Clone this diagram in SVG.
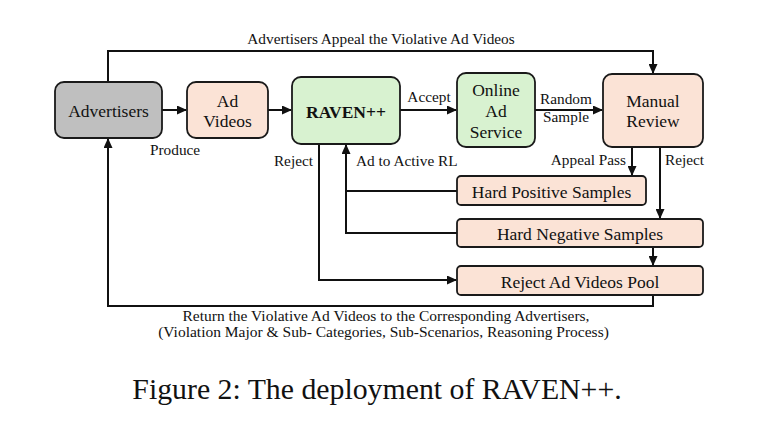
<svg xmlns="http://www.w3.org/2000/svg" width="758" height="436" viewBox="0 0 758 436">
<style>
.box{stroke:#1a1a1a;stroke-width:1.8}
.gray{fill:#bfbfbf}
.peach{fill:#fbe3d6}
.green{fill:#d8f2d0}
.bt{font-family:"Liberation Serif","Times New Roman",serif;font-size:17.5px;fill:#111;text-anchor:middle}
.lb{font-family:"Liberation Serif","Times New Roman",serif;font-size:15.3px;fill:#111}
.lb2{font-family:"Liberation Serif","Times New Roman",serif;font-size:15.5px;fill:#111;text-anchor:middle}
.cn{fill:none;stroke:#111;stroke-width:2}
</style>
<defs>
<marker id="ah" markerUnits="userSpaceOnUse" markerWidth="10" markerHeight="9" refX="9" refY="4.5" orient="auto">
<path d="M0,0 L10,4.5 L0,9 z" fill="#111"/>
</marker>
</defs>
<rect width="758" height="436" fill="#fff"/>
<g id="connectors">
<path class="cn" d="M162,110 H186" marker-end="url(#ah)"/>
<path class="cn" d="M268,110 H291" marker-end="url(#ah)"/>
<path class="cn" d="M400,110 H456" marker-end="url(#ah)"/>
<path class="cn" d="M535,110 H602" marker-end="url(#ah)"/>
<path class="cn" d="M108,82 V51 H653 V73" marker-end="url(#ah)"/>
<path class="cn" d="M632,147 V175" marker-end="url(#ah)"/>
<path class="cn" d="M660,147 V218" marker-end="url(#ah)"/>
<path class="cn" d="M653,247 V265" marker-end="url(#ah)"/>
<path class="cn" d="M653,295 V306 H108 V139" marker-end="url(#ah)"/>
<path class="cn" d="M319,144 V280 H456" marker-end="url(#ah)"/>
<path class="cn" d="M457,191 H346"/>
<path class="cn" d="M457,233 H346 V145" marker-end="url(#ah)"/>
<text class="lb" x="381" y="44" text-anchor="middle">Advertisers Appeal the Violative Ad Videos</text>
<text class="lb" x="150" y="155">Produce</text>
<text class="lb" x="313" y="166" text-anchor="end">Reject</text>
<text class="lb" x="356" y="166">Ad to Active RL</text>
<text class="lb" x="429" y="102" text-anchor="middle">Accept</text>
<text class="lb" x="566" y="104" text-anchor="middle">Random</text>
<text class="lb" x="566" y="122" text-anchor="middle">Sample</text>
<text class="lb" x="626" y="165" text-anchor="end">Appeal Pass</text>
<text class="lb" x="665" y="165">Reject</text>
<text class="lb2" x="386" y="320.5">Return the Violative Ad Videos to the Corresponding Advertisers,</text>
<text class="lb2" x="383.5" y="336.5">(Violation Major &amp; Sub- Categories, Sub-Scenarios, Reasoning Process)</text>
</g>
<g id="advertisers">
<rect class="box gray" x="55" y="82" width="107" height="56" rx="9"/>
<text class="bt" x="108.5" y="116.5">Advertisers</text>
</g>
<g id="ad-videos">
<rect class="box peach" x="187" y="82" width="81" height="56" rx="9"/>
<text class="bt" x="227.5" y="107">Ad</text>
<text class="bt" x="227.5" y="127">Videos</text>
</g>
<g id="raven">
<rect class="box green" x="292" y="77" width="108" height="67" rx="9"/>
<text class="bt" x="346" y="118" font-weight="bold">RAVEN++</text>
</g>
<g id="online-ad-service">
<rect class="box green" x="457" y="73" width="78" height="74" rx="9"/>
<text class="bt" x="496" y="96">Online</text>
<text class="bt" x="496" y="117">Ad</text>
<text class="bt" x="496" y="137.5">Service</text>
</g>
<g id="manual-review">
<rect class="box peach" x="603" y="74" width="100" height="73" rx="9"/>
<text class="bt" x="653" y="107">Manual</text>
<text class="bt" x="653" y="126.5">Review</text>
</g>
<g id="hard-positive">
<rect class="box peach" x="457" y="176" width="189" height="29" rx="4"/>
<text class="bt" x="551.5" y="198">Hard Positive Samples</text>
</g>
<g id="hard-negative">
<rect class="box peach" x="457" y="219" width="246" height="28" rx="4"/>
<text class="bt" x="580" y="239.5">Hard Negative Samples</text>
</g>
<g id="reject-pool">
<rect class="box peach" x="457" y="266" width="246" height="29" rx="4"/>
<text class="bt" x="580" y="287.5">Reject Ad Videos Pool</text>
</g>
<text x="377" y="399" text-anchor="middle" font-family="Liberation Serif, Times New Roman, serif" font-size="29.8" fill="#111">Figure 2: The deployment of RAVEN++.</text>
</svg>
